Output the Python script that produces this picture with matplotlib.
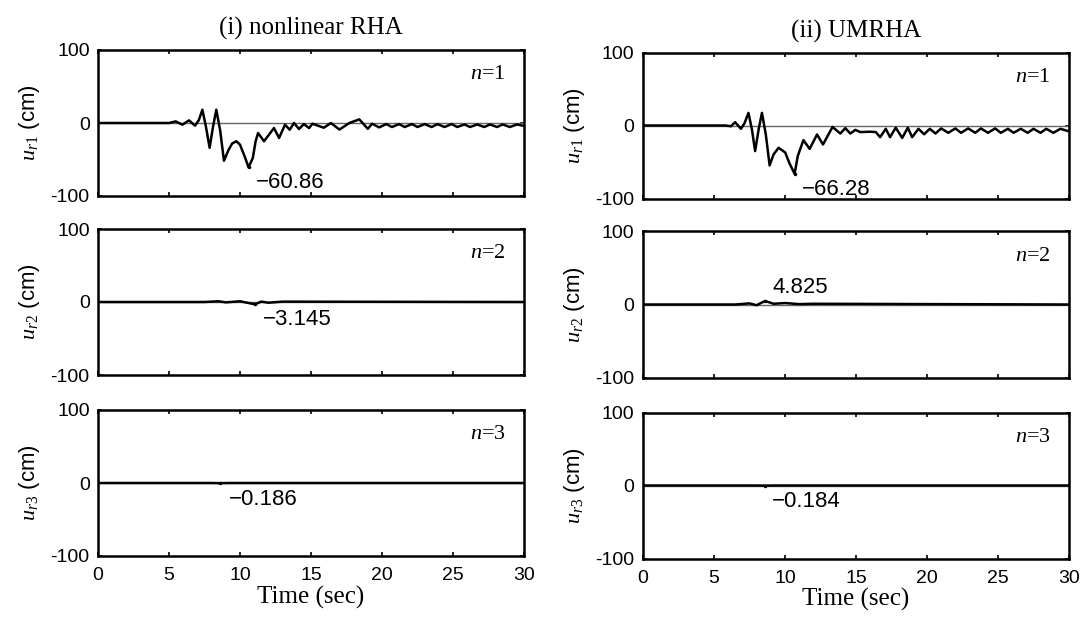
import matplotlib.pyplot as plt

plt.rcParams['font.family'] = ['Liberation Sans', 'DejaVu Sans']
plt.rcParams['mathtext.fontset'] = 'custom'
plt.rcParams['mathtext.rm'] = 'Liberation Serif'
plt.rcParams['mathtext.it'] = 'Liberation Serif:italic'

# (i) nonlinear RHA, mode 1
t_rha1 = [0, 5.0, 5.47, 5.94, 6.41, 6.83, 7.1, 7.35, 7.6, 7.86, 8.1, 8.33, 8.6, 8.87,
          9.2, 9.45, 9.74, 10.0, 10.37, 10.6, 10.9, 11.1, 11.27,
          11.69, 12.39, 12.75, 13.17, 13.5, 13.8, 14.15, 14.5, 14.86, 15.1, 15.9, 16.4,
          17.0, 17.7, 18.4, 19.0, 19.3, 19.8, 20.3, 20.7, 21.2, 21.6, 22.1, 22.5, 23.0,
          23.5, 23.9, 24.4, 24.9, 25.3, 25.8, 26.2, 26.7, 27.2, 27.6, 28.1, 28.5, 29.0,
          29.5, 30.0]
u_rha1 = [0, 0, 2.2, -2.3, 3.6, -3.7, 4, 18.2, -5, -34, -5, 18.2, -10, -51.6,
          -36.6, -28, -25, -29.7, -48, -60.86, -48, -25, -13.7,
          -25, -6.9, -20.5, -2.3, -9.2, 0, -8.2, -1.4, -7, -1, -6.5, 0,
          -9, 0, 5, -8, -1, -6, -1.5, -5.5, -1.5, -5.5, -1.5, -5.5, -1.5,
          -5.5, -1.5, -5.5, -1.5, -5.5, -2, -5.5, -2, -5.5, -2, -5.5, -2, -5.5,
          -2, -4]

# (ii) UMRHA, mode 1
t_um1 = [0, 5.8, 6.2, 6.49, 6.9, 7.15, 7.43, 7.67, 7.9, 8.15, 8.38, 8.65, 8.92,
         9.2, 9.55, 10.02, 10.3, 10.68, 10.9, 11.3, 11.74,
         12.26, 12.68, 13.35, 13.9, 14.25, 14.6, 14.96, 15.3, 16.0, 16.4, 16.7, 17.1,
         17.4, 17.8, 18.26, 18.65, 18.96, 19.4, 19.8, 20.2, 20.6, 21.0, 21.5, 22.0,
         22.4, 22.9, 23.4, 23.8, 24.3, 24.8, 25.2, 25.7, 26.1, 26.6, 27.1, 27.5, 28.0,
         28.4, 28.9, 29.4, 30.0]
u_um1 = [0, 0, -1, 4.5, -4.5, 3, 17.3, -5, -35, -5, 17.3, -12, -54.6,
         -39.6, -30.5, -37, -51, -66.28, -42, -20, -32,
         -12.3, -26, -2, -11, -3.6, -11, -6, -9, -8.5, -9, -16, -4.5,
         -16, -3, -17, -3, -16, -4.5, -12, -4.5, -11, -4, -10, -4,
         -10, -4, -10, -4, -10, -4, -10, -4.5, -10, -4.5, -10, -4.5, -10,
         -4.5, -10, -4.5, -8]

# mode 2
t_rha2 = [0, 7.5, 8.5, 9.0, 10.0, 10.5, 11.06, 11.5, 12.0, 13.0, 30.0]
u_rha2 = [0, 0, 1, -0.5, 1, -1, -3.145, 0.5, -1, 0.5, 0]
t_um2 = [0, 6.5, 7.5, 8.0, 8.6, 9.2, 10.0, 11.0, 12.0, 30.0]
u_um2 = [0, 0, 1.5, -1, 4.825, 1, 2, 0.5, 1, 0]

# mode 3
t_rha3 = [0, 8.0, 8.6, 9.2, 30.0]
u_rha3 = [0, 0, -0.186, 0, 0]
t_um3 = [0, 8.0, 8.6, 9.2, 30.0]
u_um3 = [0, 0, -0.184, 0, 0]

# peaks: (time, value, text x, text y)
peaks_rha = [(10.6, -60.86, 11.1, -82), (11.06, -3.145, 11.6, -24), (8.6, -0.186, 9.2, -22)]
peaks_um = [(10.68, -66.28, 11.2, -87), (8.6, 4.825, 9.1, 23), (8.6, -0.184, 9.1, -22)]

titles = ['(i) nonlinear RHA', '(ii) UMRHA']
ylabels = [r'$u_{r1}$ (cm)', r'$u_{r2}$ (cm)', r'$u_{r3}$ (cm)']
nlabels = [r'$n$=1', r'$n$=2', r'$n$=3']

series = [[(t_rha1, u_rha1), (t_rha2, u_rha2), (t_rha3, u_rha3)],
          [(t_um1, u_um1), (t_um2, u_um2), (t_um3, u_um3)]]
peaks = [peaks_rha, peaks_um]

fig = plt.figure(figsize=(10.89, 6.25), dpi=100)
lefts = [0.090, 0.5904]
bottoms = [0.6864, 0.400, 0.1104]

for c in range(2):
    for r in range(3):
        ax = fig.add_axes([lefts[c], bottoms[r] - 0.004 * c, 0.3912, 0.2336])
        t, u = series[c][r]
        ax.axhline(0, color='#666666', lw=1.0)
        ax.plot(t, u, color='black', lw=1.8, solid_joinstyle='round')
        pt, pv, tx, ty = peaks[c][r]
        ax.plot([pt], [pv], 'k.', ms=3)
        ax.text(tx, ty, '\u2212' + f'{abs(pv):g}' if pv < 0 else f'{pv:g}',
                fontsize=16, ha='left', va='center')
        ax.text(28.7, 66, nlabels[r], fontsize=16, ha='right', va='center',
                family='Liberation Serif')
        ax.set_xlim(0, 30)
        ax.set_ylim(-100, 100)
        ax.set_xticks(range(0, 31, 5))
        ax.set_yticks([-100, 0, 100])
        ax.set_yticklabels(['-100', '0', '100'])
        ax.tick_params(direction='in', length=3, width=1.2, top=True, right=True,
                       labelsize=14)
        ax.tick_params(axis='x', pad=8)
        ax.tick_params(axis='y', pad=6)
        for s in ax.spines.values():
            s.set_linewidth(1.8)
        ax.set_ylabel(ylabels[r], fontsize=16, labelpad=6)
        if r < 2:
            ax.set_xticklabels([])
        else:
            ax.set_xlabel('Time (sec)', fontsize=18, family='Liberation Serif', labelpad=1)
        if r == 0:
            ax.set_title(titles[c], fontsize=18, family='Liberation Serif', pad=11)

fig.savefig('out.png', dpi=100)
